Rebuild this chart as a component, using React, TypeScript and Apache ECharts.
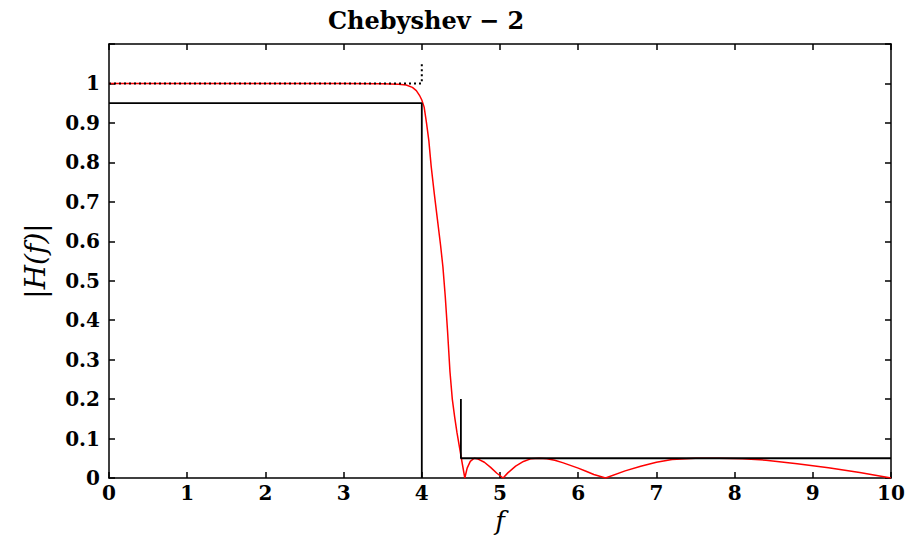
import React, { useEffect, useRef } from "react";
import * as echarts from "echarts";

// Frequency axis ticks and magnitude axis range
const xTicks = [0, 1, 2, 3, 4, 5, 6, 7, 8, 9, 10];
const yMax = 1.1;
const yStep = 0.1;

// Filter magnitude response |H(f)| sampled along f
const responseF = [
  0, 0.5, 1, 1.5, 2, 2.5, 3, 3.5, 3.7, 3.8, 3.88, 3.93, 3.97, 4.0, 4.03, 4.06,
  4.09, 4.12, 4.16, 4.2, 4.24, 4.27, 4.3, 4.33, 4.36, 4.39, 4.42, 4.45, 4.48,
  4.51, 4.55, 4.58, 4.62, 4.67, 4.72, 4.8, 4.88, 4.96, 5.04, 5.1, 5.2, 5.3,
  5.4, 5.5, 5.6, 5.7, 5.8, 5.9, 6.0, 6.1, 6.2, 6.35, 6.6, 6.8, 7.0, 7.2, 7.5,
  7.8, 8.1, 8.4, 8.8, 9.2, 9.6, 10,
];
const responseH = [
  1, 1, 1, 1, 1, 1, 0.9998, 0.9995, 0.998, 0.996, 0.99, 0.982, 0.97, 0.958,
  0.94, 0.9, 0.855, 0.79, 0.72, 0.655, 0.59, 0.535, 0.46, 0.37, 0.27, 0.2,
  0.155, 0.115, 0.08, 0.045, 0, 0.025, 0.042, 0.05, 0.048, 0.04, 0.027, 0.012,
  0, 0.013, 0.03, 0.042, 0.049, 0.05, 0.049, 0.045, 0.039, 0.032, 0.025,
  0.017, 0.009, 0, 0.018, 0.03, 0.04, 0.047, 0.05, 0.05, 0.049, 0.045, 0.036,
  0.026, 0.014, 0,
];

// Specification template: passband edge, stopband edge and tolerances
const passbandEdge = 4;
const stopbandEdge = 4.5;
const passbandMin = 0.95;
const stopbandMax = 0.05;
const stopbandMarkTop = 0.2;
const idealTopMark = 1.05;

const passbandBox = [
  [0, passbandMin],
  [passbandEdge, passbandMin],
  [passbandEdge, 0],
];
const stopbandBox = [
  [stopbandEdge, stopbandMarkTop],
  [stopbandEdge, stopbandMax],
  [10, stopbandMax],
];
const idealLine = [
  [0, 1],
  [passbandEdge, 1],
  [passbandEdge, idealTopMark],
];

const serif = "'DejaVu Serif', 'Liberation Serif', serif";

export default function App() {
  const ref = useRef<HTMLDivElement>(null);

  useEffect(() => {
    if (!ref.current) return;
    const chart = echarts.init(ref.current, null, { renderer: "svg" });

    const fmtY = (v: number) =>
      v > 1.05 ? "" : String(parseFloat(v.toFixed(1)));

    const axisLine = {
      show: true,
      onZero: false,
      lineStyle: { color: "#000", width: 1.5 },
    };
    const axisTick = {
      show: true,
      inside: true,
      length: 6,
      lineStyle: { color: "#000", width: 1.5 },
    };
    const tickFont = {
      color: "#000",
      fontFamily: serif,
      fontWeight: "bold" as const,
      fontSize: 20,
    };

    chart.setOption({
      animation: false,
      backgroundColor: "#fff",
      title: {
        text: "Chebyshev − 2",
        left: 421,
        top: 3,
        textAlign: "center",
        textStyle: {
          fontFamily: serif,
          fontWeight: "bold",
          fontSize: 24,
          color: "#000",
        },
      },
      grid: {
        left: 109,
        right: 14,
        top: 44,
        bottom: 60,
        containLabel: false,
        outerBoundsMode: "none",
      },
      xAxis: [
        {
          type: "value",
          min: xTicks[0],
          max: xTicks[xTicks.length - 1],
          interval: 1,
          position: "bottom",
          axisLine,
          axisTick,
          splitLine: { show: false },
          axisLabel: { ...tickFont, margin: 5 },
          name: "f",
          nameLocation: "middle",
          nameGap: 29,
          nameTextStyle: {
            fontFamily: serif,
            fontStyle: "italic",
            fontSize: 26,
            color: "#000",
          },
        },
        {
          type: "value",
          min: xTicks[0],
          max: xTicks[xTicks.length - 1],
          interval: 1,
          position: "top",
          axisLine,
          axisTick,
          splitLine: { show: false },
          axisLabel: { show: false },
        },
      ],
      yAxis: [
        {
          type: "value",
          min: 0,
          max: yMax,
          interval: yStep,
          position: "left",
          axisLine,
          axisTick,
          splitLine: { show: false },
          axisLabel: { ...tickFont, margin: 9, formatter: fmtY },
          name: "|H(f)|",
          nameLocation: "middle",
          nameRotate: 90,
          nameGap: 60,
          nameTextStyle: {
            fontFamily: serif,
            fontStyle: "italic",
            fontSize: 28,
            color: "#000",
          },
        },
        {
          type: "value",
          min: 0,
          max: yMax,
          interval: yStep,
          position: "right",
          axisLine,
          axisTick,
          splitLine: { show: false },
          axisLabel: { show: false },
        },
      ],
      series: [
        {
          type: "line",
          data: responseF.map((f, i) => [f, responseH[i]]),
          showSymbol: false,
          smooth: false,
          lineStyle: { color: "#ff0000", width: 1.5 },
          z: 2,
        },
        {
          type: "line",
          data: passbandBox,
          showSymbol: false,
          lineStyle: { color: "#000", width: 1.8 },
          z: 3,
        },
        {
          type: "line",
          data: stopbandBox,
          showSymbol: false,
          lineStyle: { color: "#000", width: 1.8 },
          z: 3,
        },
        {
          type: "line",
          data: idealLine,
          showSymbol: false,
          lineStyle: { color: "#000", width: 2, type: [2, 3] },
          z: 4,
        },
      ],
    });

    return () => chart.dispose();
  }, []);

  return (
    <div
      ref={ref}
      style={{ position: "fixed", left: 0, top: 0, width: 905, height: 538 }}
    />
  );
}
